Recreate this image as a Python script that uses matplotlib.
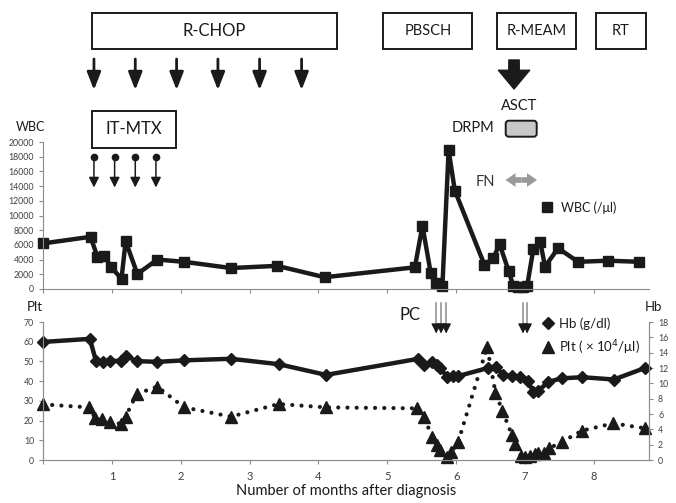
import matplotlib
matplotlib.use("Agg")
import matplotlib.pyplot as plt
from matplotlib.patches import Rectangle, FancyBboxPatch

plt.rcParams['font.family'] = ['Lato', 'DejaVu Sans']

# WBC (/ul) by month after diagnosis
wbc_month = [0.0, 0.69, 0.79, 0.89, 0.99, 1.14, 1.20, 1.37, 1.66, 2.05, 2.73, 3.40, 4.09,
             5.40, 5.51, 5.63, 5.70, 5.80, 5.89, 5.98, 6.41, 6.54, 6.63, 6.76, 6.83, 6.90,
             6.97, 7.03, 7.12, 7.22, 7.29, 7.48, 7.77, 8.21, 8.66]
wbc_value = [6200, 7100, 4400, 4500, 2950, 1400, 6500, 2050, 4000, 3700, 2850, 3150, 1600,
             2950, 8600, 2200, 850, 400, 18900, 13400, 3300, 4200, 6100, 2500, 400, 300,
             300, 400, 5400, 6450, 3050, 5550, 3700, 3850, 3700]

# Hb (g/dl)
hb_month = [0.0, 0.68, 0.77, 0.87, 0.97, 1.13, 1.20, 1.36, 1.66, 2.05, 2.73, 3.42, 4.11,
            5.45, 5.53, 5.65, 5.72, 5.77, 5.87, 5.95, 6.03, 6.46, 6.58, 6.68, 6.81, 6.92,
            7.04, 7.12, 7.19, 7.34, 7.53, 7.83, 8.29, 8.74]
hb_value = [15.4, 15.8, 12.9, 12.8, 12.9, 12.95, 13.6, 12.9, 12.8, 13.0, 13.2, 12.5, 11.1,
            13.2, 12.4, 12.8, 12.4, 12.0, 10.8, 10.95, 10.95, 12.0, 12.1, 11.1, 10.95, 10.8,
            10.3, 8.9, 9.0, 10.2, 10.65, 10.8, 10.5, 12.0]

# Plt (x10^4/ul)
plt_month = [0.0, 0.67, 0.76, 0.86, 0.98, 1.13, 1.20, 1.36, 1.66, 2.05, 2.73, 3.42, 4.11,
             5.43, 5.53, 5.65, 5.72, 5.77, 5.87, 5.93, 6.03, 6.45, 6.57, 6.67, 6.81, 6.86,
             6.94, 7.00, 7.07, 7.14, 7.19, 7.28, 7.35, 7.54, 7.83, 8.28, 8.74]
plt_value = [28.2, 26.7, 21.1, 20.6, 19.4, 18.3, 22.0, 33.5, 37.2, 26.7, 22.0, 28.4, 26.7,
             26.2, 22.0, 11.8, 7.6, 5.1, 1.5, 4.0, 9.3, 57.4, 34.2, 25.0, 12.7, 8.1,
             2.2, 1.7, 2.2, 3.0, 3.4, 3.7, 5.9, 9.3, 14.9, 18.6, 16.1]

# treatment events (months)
rchop_months = [0.74, 1.34, 1.94, 2.54, 3.145, 3.755]
itmtx_months = [0.74, 1.04, 1.34, 1.64]
pc_months = [5.71, 5.78, 5.855, 6.97, 7.03]
asct_month = 6.84

month_ticks = [1, 2, 3, 4, 5, 6, 7, 8]

W, H = 676, 503
X0, X1, XMAX = 43, 649, 8.8
ink = '#1a1a1a'
spine_c = '#8c8c8c'
tick_c = '#404040'


def frac(x0, y0, x1, y1):
    return [x0 / W, 1 - y1 / H, (x1 - x0) / W, (y1 - y0) / H]


def mx(m):
    return X0 + m * (X1 - X0) / XMAX


fig = plt.figure(figsize=(6.76, 5.03), dpi=100)

# ---- WBC panel
ax_w = fig.add_axes(frac(X0, 142, X1, 289))
ax_w.plot(wbc_month, wbc_value, color=ink, lw=3.2, marker='s', ms=7, clip_on=False)
ax_w.set_xlim(0, XMAX)
ax_w.set_ylim(0, 20000)
ax_w.set_yticks(range(0, 20001, 2000))
ax_w.set_xticks(range(0, 9))
ax_w.set_xticklabels([])
for s in ['top', 'right']:
    ax_w.spines[s].set_visible(False)
for s in ['left', 'bottom']:
    ax_w.spines[s].set_color(spine_c)
ax_w.tick_params(colors=spine_c, labelcolor=tick_c, labelsize=6.3, length=3)
ax_w.patch.set_alpha(0)

# ---- Plt / Hb panel
ax_p = fig.add_axes(frac(X0, 322, X1, 460))
ax_p.plot(plt_month, plt_value, color=ink, lw=3, linestyle=(0, (0.01, 2.2)),
          dash_capstyle='round', clip_on=False)
ax_p.plot(plt_month, plt_value, color=ink, lw=0, marker='^', ms=8, clip_on=False)
ax_p.set_xlim(0, XMAX)
ax_p.set_ylim(0, 70)
ax_p.set_yticks(range(0, 71, 10))
ax_p.set_xticks(range(0, 9))
ax_p.set_xticklabels([''] + [str(t) for t in month_ticks])
ax_p.spines['top'].set_visible(False)
for s in ['left', 'bottom', 'right']:
    ax_p.spines[s].set_color(spine_c)
ax_p.tick_params(colors=spine_c, labelcolor=tick_c, labelsize=6.3, length=3)
ax_p.tick_params(axis='x', labelsize=8, pad=5)
ax_p.set_xlabel('Number of months after diagnosis', fontsize=10.5, color='#1a1a1a', labelpad=1)

ax_h = ax_p.twinx()
ax_h.plot(hb_month, hb_value, color=ink, lw=3.2, marker='D', ms=6.5, clip_on=False)
ax_h.set_ylim(0, 18)
ax_h.set_yticks(range(0, 19, 2))
ax_h.spines['top'].set_visible(False)
for s in ['left', 'bottom', 'right']:
    ax_h.spines[s].set_color(spine_c)
ax_h.tick_params(colors=spine_c, labelcolor=tick_c, labelsize=6.3, length=3)

# ---- annotation overlay in pixel space
ov = fig.add_axes([0, 0, 1, 1])
ov.set_xlim(0, W)
ov.set_ylim(H, 0)
ov.axis('off')

boxes = [('R-CHOP', 92.3, 12.7, 337, 49), ('PBSCH', 383.3, 12.7, 472.3, 49.3),
         ('R-MEAM', 497.3, 12.7, 576, 49.3), ('RT', 596, 12.7, 646, 49.3),
         ('IT-MTX', 92.3, 111, 176, 147.7)]
for label, x0, y0, x1, y1 in boxes:
    ov.add_patch(Rectangle((x0, y0), x1 - x0, y1 - y0, fc='white', ec=ink, lw=1.4))
    ov.text((x0 + x1) / 2, (y0 + y1) / 2, label, ha='center', va='center',
            fontsize=12 if label in ('R-CHOP', 'IT-MTX') else 10.5, color=ink)

for m in rchop_months:
    ov.annotate('', xy=(mx(m), 90), xytext=(mx(m), 59),
                arrowprops=dict(arrowstyle='-|>,head_length=0.9,head_width=0.35', lw=2,
                                color=ink, mutation_scale=12, shrinkA=0, shrinkB=0))

ov.annotate('', xy=(mx(asct_month), 89), xytext=(mx(asct_month), 60),
            arrowprops=dict(arrowstyle='simple,head_length=0.9,head_width=1.5,tail_width=0.5',
                            color=ink, mutation_scale=15, shrinkA=0, shrinkB=0))
ov.text(mx(asct_month) + 5, 106, 'ASCT', ha='center', va='center', fontsize=10.5, color=ink)
ov.text(473.3, 128.5, 'DRPM', ha='center', va='center', fontsize=10.5, color=ink)
ov.add_patch(FancyBboxPatch((505.7, 120.7), 31, 16, boxstyle='round,pad=0,rounding_size=3',
                            fc='#c8c8c8', ec=ink, lw=1.4))

ov.text(485, 181.7, 'FN', ha='center', va='center', fontsize=10.5, color='#333333')
for end in (505.5, 537):
    ov.annotate('', xy=(end, 180), xytext=(521.25, 180),
                arrowprops=dict(arrowstyle='simple,head_length=0.8,head_width=1.1,tail_width=0.45',
                                color='#9a9a9a', lw=0, mutation_scale=9, shrinkA=0, shrinkB=0))

for m in itmtx_months:
    ov.plot([mx(m)], [156.7], 'o', color=ink, ms=4.5)
    ov.annotate('', xy=(mx(m), 187.5), xytext=(mx(m), 156.7),
                arrowprops=dict(arrowstyle='-|>,head_length=0.5,head_width=0.25', lw=1.1,
                                color=ink, mutation_scale=12, shrinkA=0, shrinkB=0))

for m in pc_months:
    ov.plot([mx(m), mx(m)], [302.7, 329], color='#8a8a8a', lw=1.1)
    ov.annotate('', xy=(mx(m), 333.5), xytext=(mx(m), 327),
                arrowprops=dict(arrowstyle='-|>,head_length=0.5,head_width=0.25', lw=0.8,
                                color=ink, mutation_scale=12, shrinkA=0, shrinkB=0))
ov.text(410, 315, 'PC', ha='center', va='center', fontsize=12, color=ink)

ov.text(30.7, 127, 'WBC', ha='center', va='center', fontsize=9, color=ink)
ov.text(35, 307, 'Plt', ha='center', va='center', fontsize=9.5, color=ink)
ov.text(653, 307, 'Hb', ha='center', va='center', fontsize=9.5, color=ink)

# legends
ov.plot([546.7], [207.3], 's', color=ink, ms=7)
ov.text(561, 207.3, 'WBC (/μl)', ha='left', va='center', fontsize=9, color=ink)
ov.plot([548.3], [323.3], 'D', color=ink, ms=6.5)
ov.text(559, 323.3, 'Hb (g/dl)', ha='left', va='center', fontsize=9.5, color=ink)
ov.plot([548], [347.3], '^', color=ink, ms=8.5)
ov.text(559, 348, 'Plt ( × 10$^{4}$/μl)', ha='left', va='center', fontsize=9.5, color=ink)

fig.savefig('out.png', dpi=100)
